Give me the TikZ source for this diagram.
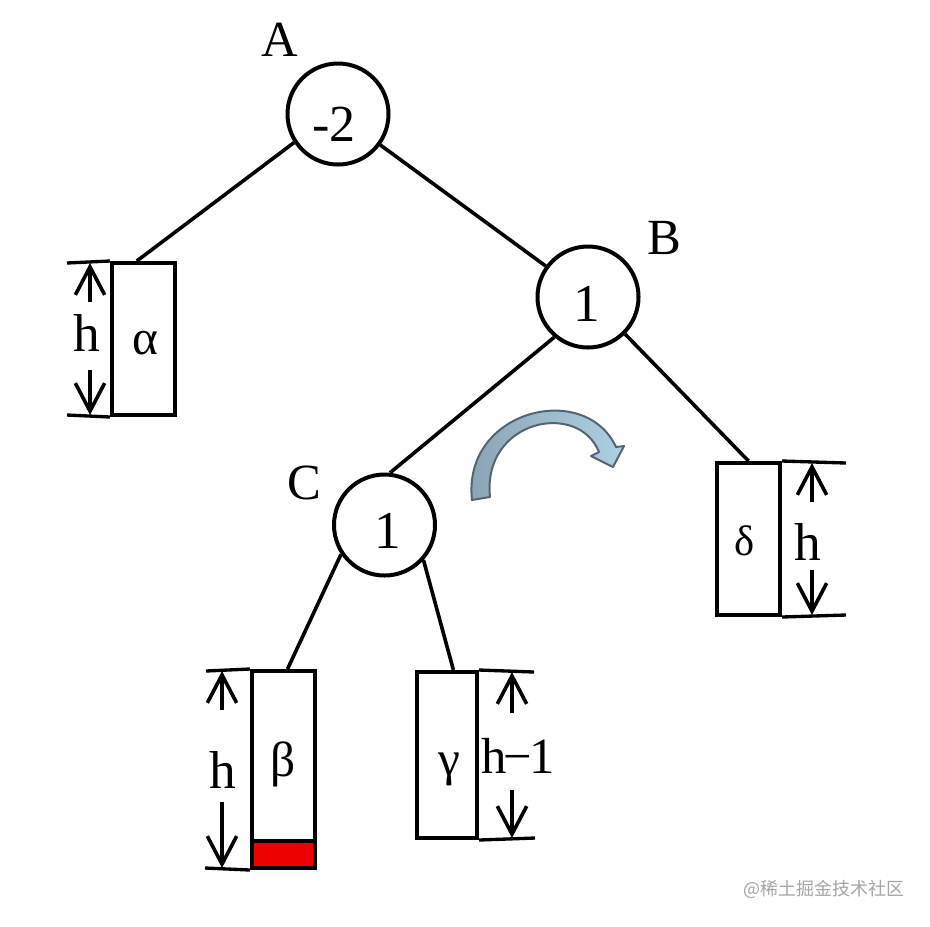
\documentclass[tikz,border=0pt]{standalone}
\usepackage{fontspec}
\setmainfont{Liberation Serif}
\newfontfamily\cjk{Noto Sans CJK SC}
\usetikzlibrary{arrows.meta,calc}
\definecolor{redfill}{RGB}{238,0,0}
\definecolor{arrowline}{RGB}{85,100,115}
\definecolor{arrowdark}{RGB}{138,162,178}
\definecolor{arrowlight}{RGB}{174,207,226}
\definecolor{wmgray}{RGB}{165,165,165}
\tikzset{
  circ/.style={circle, draw, line width=3pt, minimum size=75.75pt, inner sep=0pt},
  box/.style 2 args={draw, line width=3pt, minimum width=#1, minimum height=#2, inner sep=0pt},
  edgeline/.style={line width=2.7pt},
  dimline/.style={line width=2.5pt},
  dimarr/.style={line width=2.7pt, -{Straight Barb[length=21pt,width=22pt]}},
  biglbl/.style={font=\fontsize{38}{40}\selectfont, inner sep=0pt},
  numlbl/.style={font=\fontsize{40}{42}\selectfont, inner sep=0pt},
  smallnum/.style={font=\fontsize{39}{41}\selectfont, inner sep=0pt},
  greek/.style={font=\fontsize{37}{39}\selectfont, inner sep=0pt},
  hlbl/.style={font=\fontsize{40}{42}\selectfont, inner sep=0pt},
}
\begin{document}
\begin{tikzpicture}[x=0.75pt, y=-0.75pt]
\useasboundingbox (0,0) rectangle (930,926);
\fill[white] (0,0) rectangle (930,926);

% circles
\node[circ] (A) at (338,114) {};
\node[circ] (B) at (588,297) {};
\node[circ] (C) at (384.5,525) {};
\node[smallnum] (vA) at (334,124) {-2};
\node[numlbl] (vB) at (587,304) {1};
\node[numlbl] (vC) at (388,531) {1};
\node[biglbl] (lA) at (280,40) {A};
\node[biglbl] (lB) at (664,238) {B};
\node[biglbl] (lC) at (304,483) {C};

% subtree boxes
\node[box={47.25pt}{114pt}] (alpha) at (143.5,339) {};
\node[box={47.25pt}{127.5pt}] (beta) at (283.5,756) {};
\node[box={47.25pt}{20.25pt}, fill=redfill] (red) at (283.5,854.5) {};
\node[box={45pt}{124.5pt}] (gamma) at (447,755) {};
\node[box={47.25pt}{114pt}] (delta) at (748.5,539) {};

\node[greek] (ga) at (145,343) {α};
\node[greek] (gb) at (283,764) {β};
\node[greek] (gg) at (449,769) {γ};
\node[greek, font=\fontsize{32}{34}\selectfont] (gd) at (745,541) {δ};

% tree edges
\draw[edgeline] (A.213) -- ($(alpha.north west)!0.4!(alpha.north east)$);
\draw[edgeline] (A) -- (B);
\draw[edgeline] (B.230) -- (C.84);
\draw[edgeline] (B.-45) -- (delta.north);
\draw[edgeline] (C.214) -- ($(beta.north west)!0.56!(beta.north east)$);
\draw[edgeline] (C.-42) -- ($(gamma.north west)!0.6!(gamma.north east)$);

% height markers: alpha
\coordinate (a1) at (67,263);
\coordinate (a2) at (67,415);
\draw[dimline] (a1) -- (alpha.north west);
\draw[dimline] (a2) -- (alpha.south west);
\node[hlbl] (ha) at (87,333) {h};
\coordinate (aus) at (90,302);
\coordinate (aut) at (90,263);
\coordinate (ads) at (90,370);
\coordinate (adt) at (90,415);
\draw[dimarr] (aus) -- (aut);
\draw[dimarr] (ads) -- (adt);

% height markers: beta
\coordinate (b1) at (206,671);
\coordinate (b2) at (205,868);
\draw[dimline] (b1) -- (beta.north west);
\draw[dimline] (b2) -- (red.south west);
\node[hlbl] (hb) at (223,770) {h};
\coordinate (bus) at (222,710);
\coordinate (but) at (222,671);
\coordinate (bds) at (222,802);
\coordinate (bdt) at (222,868);
\draw[dimarr] (bus) -- (but);
\draw[dimarr] (bds) -- (bdt);

% height markers: gamma
\coordinate (g1) at (534,672);
\coordinate (g2) at (535,838);
\draw[dimline] (gamma.north east) -- (g1);
\draw[dimline] (gamma.south east) -- (g2);
\node[hlbl, font=\fontsize{38}{40}\selectfont] (hg) at (518,756) {h\kern-2pt−\kern-2pt1};
\coordinate (gus) at (512,713);
\coordinate (gut) at (512,672);
\coordinate (gds) at (512,790);
\coordinate (gdt) at (512,838);
\draw[dimarr] (gus) -- (gut);
\draw[dimarr] (gds) -- (gdt);

% height markers: delta
\coordinate (d1) at (846,463);
\coordinate (d2) at (846,615);
\draw[dimline] (delta.north east) -- (d1);
\draw[dimline] (delta.south east) -- (d2);
\node[hlbl] (hd) at (808,542) {h};
\coordinate (dus) at (812,502);
\coordinate (dut) at (812,463);
\coordinate (dds) at (812,570);
\coordinate (ddt) at (812,615);
\draw[dimarr] (dus) -- (dut);
\draw[dimarr] (dds) -- (ddt);

% rotation arrow
\draw[line width=1.5pt, draw=arrowline, line join=round, left color=arrowdark, right color=arrowlight]
  (472,500) .. controls (462,410) and (585,380) .. (616,447)
  -- (624,446) -- (613,467) -- (591,456) -- (599,452)
  .. controls (578,400) and (482,420) .. (490,497) -- cycle;

% watermark
\node[font=\cjk\fontsize{13.5}{15}\selectfont, text=wmgray, inner sep=0pt] (wm) at (824,889) {@稀土掘金技术社区};
\end{tikzpicture}
\end{document}
